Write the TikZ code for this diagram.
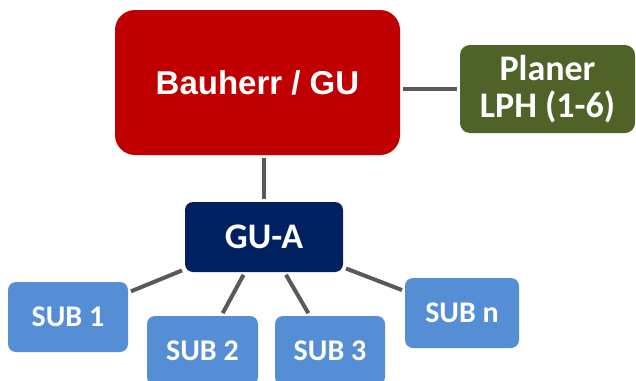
\documentclass[tikz,border=0pt]{standalone}
\usepackage{fontspec}
\setmainfont{Liberation Sans}
\newfontfamily\calib{Carlito}
\definecolor{baured}{HTML}{C00000}
\definecolor{planolive}{HTML}{4F6228}
\definecolor{guanavy}{HTML}{002060}
\definecolor{subblue}{HTML}{558ED5}
\definecolor{linegray}{HTML}{595959}
\tikzset{
  box/.style={rectangle, inner sep=0pt, text=white, anchor=center},
  conn/.style={draw=linegray, line width=4pt, shorten <=3pt, shorten >=3pt},
  subbox/.style={box, fill=subblue, rounded corners=8pt, minimum height=69pt,
     font=\calib\bfseries\fontsize{30}{34}\selectfont},
}
\begin{document}
\begin{tikzpicture}[x=1pt,y=-1pt]
\useasboundingbox[fill=white] (0,0) rectangle (636,380);
\node[box, fill=baured, rounded corners=20pt, minimum width=285pt, minimum height=145pt,
  font=\bfseries\fontsize{33}{38}\selectfont] (bau) at (257.5,82.5) {Bauherr / GU};
\node[box, fill=planolive, rounded corners=10pt, minimum width=175pt, minimum height=88pt,
  align=center, font=\calib\bfseries\fontsize{36}{37}\selectfont] (plan) at (547.5,89) {Planer\\LPH (1-6)};
\node[box, fill=guanavy, rounded corners=8pt, minimum width=158pt, minimum height=70pt,
  font=\calib\bfseries\fontsize{36}{40}\selectfont] (gua) at (264,237) {GU-A};
\node[subbox, minimum width=120pt, minimum height=70pt] (s1) at (68,317) {SUB 1};
\node[subbox, minimum width=111pt] (s2) at (202.5,350.5) {SUB 2};
\node[subbox, minimum width=110pt] (s3) at (330,350.5) {SUB 3};
\node[subbox, minimum width=114pt, minimum height=70pt] (sn) at (462,313) {SUB n};
\draw[conn] (gua.north) -- (gua.north |- bau.south);
\draw[conn] (plan.west) -- (plan.west -| bau.east);
\draw[conn] (gua) -- (s1);
\draw[conn] (gua) -- (s2);
\draw[conn] (gua) -- (s3);
\draw[conn] (gua) -- (sn);
\end{tikzpicture}
\end{document}
